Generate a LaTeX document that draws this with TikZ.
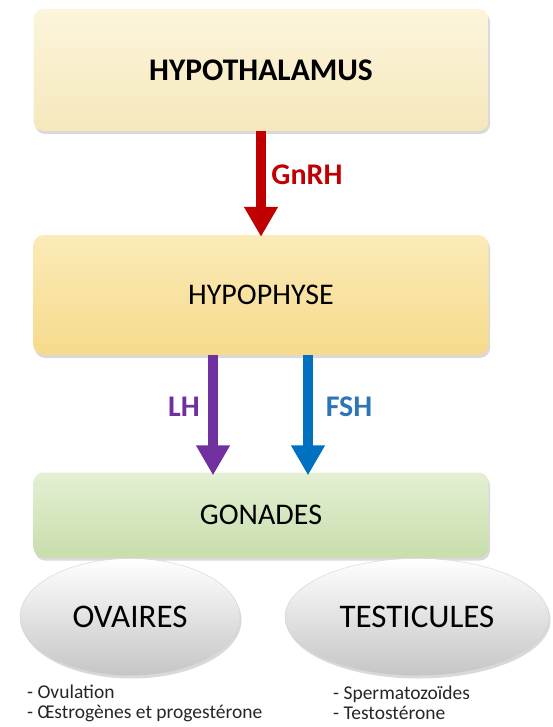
\documentclass[tikz,border=0pt]{standalone}
\usepackage{fontspec}
\setmainfont{Carlito}
\usetikzlibrary{arrows.meta,shadows,shapes.geometric}
\definecolor{hypoTop}{HTML}{FCF5DC}
\definecolor{hypoBot}{HTML}{F6E8BC}
\definecolor{hyphTop}{HTML}{FBEBB8}
\definecolor{hyphBot}{HTML}{F6DA8C}
\definecolor{gonTop}{HTML}{E3F0D3}
\definecolor{gonBot}{HTML}{C8DEAC}
\definecolor{gnrhRed}{HTML}{C00000}
\definecolor{lhPurple}{HTML}{7030A0}
\definecolor{fshBlue}{HTML}{0070C0}
\definecolor{fshText}{HTML}{2E75B6}
\begin{document}
\begin{tikzpicture}[x=1pt,y=-1pt,
  box/.style={rounded corners=10pt, minimum width=455pt, draw=none,
    drop shadow={shadow xshift=1.5pt, shadow yshift=-3pt, opacity=0.3},
    font=\fontsize{30}{36}\selectfont, text=black},
  gland/.style={ellipse, minimum height=117pt, draw=gray!35,
    top color=white, bottom color=gray!45,
    drop shadow={shadow xshift=1.5pt, shadow yshift=-3pt, opacity=0.3},
    font=\fontsize{33}{40}\selectfont, text=black},
  hormone/.style={line width=10pt, -{Triangle[width=32pt,length=30pt]}},
  hlabel/.style={font=\bfseries\fontsize{30}{36}\selectfont},
  listtext/.style={anchor=west, inner sep=0pt, align=left,
    font=\fontsize{19.5}{20}\selectfont, text=black!85}
]
\useasboundingbox (0,0) rectangle (552,727);

\node[box, minimum height=122pt, top color=hypoTop, bottom color=hypoBot,
  font=\bfseries\fontsize{31.5}{38}\selectfont] (hypo) at (261,70) {HYPOTHALAMUS};
\node[box, minimum height=120pt, top color=hyphTop, bottom color=hyphBot] (hyph) at (261,295) {HYPOPHYSE};
\node[box, minimum height=85pt, top color=gonTop, bottom color=gonBot] (gon) at (261,515) {GONADES};

\node[gland, minimum width=220pt] (ova) at (130,617) {OVAIRES};
\node[gland, minimum width=264pt] (test) at (417,617) {TESTICULES};

\draw[hormone, draw=gnrhRed] (hypo.south) -- ([yshift=-2pt]hyph.north);
\node[hlabel, text=gnrhRed] (gnrh) at (307,175) {GnRH};

\draw[hormone, draw=lhPurple] ([xshift=-48pt]hyph.south) -- ([xshift=-48pt,yshift=-3pt]gon.north);
\node[hlabel, text=lhPurple] (lh) at (184,407) {LH};

\draw[hormone, draw=fshBlue] ([xshift=47pt]hyph.south) -- ([xshift=47pt,yshift=-3pt]gon.north);
\node[hlabel, text=fshText] (fsh) at (349,407) {FSH};

\node[listtext] (ovlist) at (27,703) {- Ovulation\\- Œstrogènes et progestérone};
\node[listtext] (testlist) at (333,703) {- Spermatozoïdes\\- Testostérone};
\end{tikzpicture}
\end{document}
